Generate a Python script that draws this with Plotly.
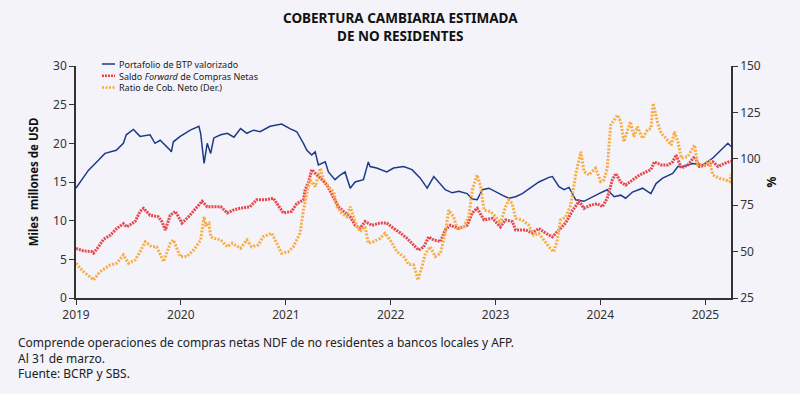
import plotly.graph_objects as go

# ---------------- data ----------------
btp_dates = ["2019-01-01","2019-01-27","2019-02-13","2019-03-20","2019-04-12","2019-05-21","2019-06-15","2019-06-25",
             "2019-07-20","2019-08-12","2019-09-16","2019-10-03","2019-10-21","2019-11-25","2019-11-29","2019-12-06",
             "2019-12-30","2020-02-03","2020-03-04","2020-03-10","2020-03-22","2020-04-02","2020-04-14","2020-04-25",
             "2020-05-19","2020-06-11","2020-07-04","2020-07-27","2020-08-18","2020-09-10","2020-10-03","2020-11-07",
             "2020-12-17","2021-01-15","2021-02-08","2021-03-03","2021-03-15","2021-04-01","2021-04-13","2021-04-24",
             "2021-05-18","2021-05-29","2021-06-21","2021-07-09","2021-07-26","2021-08-13","2021-08-30","2021-09-28",
             "2021-10-15","2021-10-21","2021-11-13","2021-12-18","2022-01-11","2022-02-15","2022-03-16","2022-04-14",
             "2022-05-08","2022-05-31","2022-06-17","2022-07-10","2022-08-03","2022-08-26","2022-09-24","2022-10-12",
             "2022-10-29","2022-11-16","2022-12-09","2023-01-01","2023-01-24","2023-02-16","2023-03-12","2023-04-04",
             "2023-05-09","2023-06-01","2023-07-06","2023-07-18","2023-08-10","2023-08-28","2023-09-14","2023-09-26",
             "2023-10-07","2023-11-05","2023-12-04","2023-12-27","2024-01-25","2024-02-06","2024-02-18","2024-03-12",
             "2024-03-29","2024-04-22","2024-05-27","2024-06-25","2024-07-13","2024-08-05","2024-09-09","2024-09-27",
             "2024-10-14","2024-11-18","2024-12-23","2025-01-27","2025-02-25","2025-03-20","2025-03-31"]
btp_values = [14.2,15.5,16.5,17.8,18.7,19.1,20.0,21.1,
              21.8,20.9,21.1,20.0,20.4,19.1,18.9,20.2,
              20.9,21.7,22.2,21.3,17.4,20.0,18.7,20.7,
              21.1,21.3,20.8,21.9,21.3,21.7,21.5,22.2,
              22.5,21.9,21.5,20.0,19.1,18.5,18.9,17.2,
              17.6,16.3,15.3,15.9,16.3,14.2,15.0,15.3,
              17.6,17.0,16.8,16.3,16.8,17.0,16.6,15.5,
              14.2,15.7,15.0,14.0,13.6,13.8,13.5,12.8,
              12.7,14.0,14.2,13.7,13.3,12.9,13.1,13.5,
              14.4,15.0,15.6,15.7,14.4,14.0,14.3,13.5,
              12.7,12.5,13.1,13.5,14.0,13.5,13.1,13.3,
              12.9,13.7,14.2,13.5,14.8,15.5,16.1,17.0,
              17.0,17.4,17.2,18.1,19.1,20.0,19.6]

fwd_dates = ["2019-01-01","2019-01-27","2019-02-25","2019-03-03","2019-03-20","2019-04-07","2019-04-30","2019-05-23",
             "2019-06-15","2019-06-27","2019-07-26","2019-08-12","2019-08-24","2019-09-16","2019-10-15","2019-10-27",
             "2019-11-08","2019-11-25","2019-12-13","2020-01-05","2020-01-28","2020-02-21","2020-03-15","2020-04-02",
             "2020-04-25","2020-05-19","2020-06-11","2020-07-04","2020-07-25","2020-08-29","2020-09-21","2020-10-20",
             "2020-11-18","2020-12-23","2021-01-21","2021-02-08","2021-03-03","2021-03-09","2021-03-21","2021-04-01",
             "2021-04-19","2021-05-07","2021-05-24","2021-06-16","2021-07-03","2021-07-21","2021-08-13","2021-08-30",
             "2021-09-16","2021-10-04","2021-10-27","2021-11-25","2021-12-18","2022-01-11","2022-02-04","2022-02-27",
             "2022-03-16","2022-04-08","2022-04-26","2022-05-13","2022-05-31","2022-06-23","2022-07-10","2022-07-28",
             "2022-08-26","2022-09-24","2022-10-12","2022-10-29","2022-11-22","2022-12-21","2023-01-18","2023-02-05",
             "2023-02-28","2023-03-12","2023-04-16","2023-05-09","2023-06-01","2023-06-24","2023-07-18","2023-08-10",
             "2023-09-02","2023-09-26","2023-10-19","2023-11-05","2023-11-28","2023-12-21","2024-01-08","2024-01-25",
             "2024-02-12","2024-02-24","2024-03-12","2024-03-29","2024-04-22","2024-05-16","2024-06-08","2024-06-25",
             "2024-07-07","2024-07-31","2024-08-23","2024-09-09","2024-09-21","2024-10-09","2024-11-01","2024-11-24",
             "2024-12-11","2025-01-04","2025-01-27","2025-02-14","2025-03-08","2025-03-31"]
fwd_values = [6.4,6.1,6.0,5.8,6.6,7.6,8.1,9.0,
              9.6,9.2,9.9,11.2,11.6,10.7,10.5,9.9,
              8.8,10.7,11.2,9.7,10.5,11.6,12.5,11.8,
              11.8,11.8,11.0,11.4,11.6,11.8,12.7,12.7,
              12.9,11.0,11.2,12.2,12.7,14.0,15.0,16.6,
              15.9,15.3,14.6,13.1,11.8,11.2,10.5,9.4,
              9.0,9.9,9.4,9.7,9.7,9.0,8.4,7.7,
              7.1,6.2,6.6,7.9,7.5,7.3,8.8,9.4,
              9.0,9.4,11.0,11.6,10.1,10.3,9.2,10.1,
              9.9,8.8,8.8,8.4,9.0,8.4,7.9,8.8,
              9.7,11.3,12.5,11.6,12.0,12.2,11.8,12.9,
              15.3,16.1,15.0,14.6,15.3,15.9,16.3,16.6,
              17.6,17.2,17.2,17.6,18.5,16.8,17.2,18.3,
              17.0,17.2,17.6,17.0,17.4,17.7]

ratio_dates = ["2019-01-01","2019-01-27","2019-02-25","2019-03-03","2019-03-26","2019-04-30","2019-05-23","2019-06-15",
               "2019-07-03","2019-07-26","2019-08-12","2019-08-30","2019-09-22","2019-10-09","2019-11-02","2019-11-25",
               "2019-12-06","2019-12-30","2020-01-22","2020-02-15","2020-03-10","2020-03-22","2020-03-28","2020-04-08",
               "2020-04-14","2020-04-25","2020-05-19","2020-06-11","2020-06-28","2020-07-27","2020-08-18","2020-09-04",
               "2020-09-27","2020-10-14","2020-11-13","2020-11-30","2020-12-17","2021-01-09","2021-01-27","2021-02-19",
               "2021-03-03","2021-03-15","2021-03-26","2021-04-13","2021-05-01","2021-05-12","2021-05-29","2021-06-16",
               "2021-06-28","2021-07-15","2021-08-01","2021-08-13","2021-08-30","2021-09-16","2021-10-04","2021-10-15",
               "2021-11-02","2021-11-25","2021-12-12","2021-12-30","2022-01-23","2022-02-15","2022-03-04","2022-03-22",
               "2022-04-06","2022-04-20","2022-05-02","2022-05-19","2022-06-05","2022-06-23","2022-07-10","2022-07-22",
               "2022-08-08","2022-08-20","2022-09-12","2022-09-30","2022-10-12","2022-10-29","2022-11-10","2022-11-22",
               "2022-12-15","2023-01-01","2023-01-18","2023-02-05","2023-02-16","2023-02-28","2023-03-12","2023-04-04",
               "2023-04-27","2023-05-14","2023-06-01","2023-06-18","2023-07-06","2023-07-23","2023-08-04","2023-08-15",
               "2023-09-02","2023-09-20","2023-10-07","2023-10-25","2023-11-05","2023-11-22","2023-12-15","2024-01-02",
               "2024-01-13","2024-01-25","2024-02-06","2024-03-01","2024-03-12","2024-03-23","2024-04-04","2024-04-15",
               "2024-04-27","2024-05-09","2024-05-27","2024-06-13","2024-06-25","2024-07-03","2024-07-19","2024-07-31",
               "2024-08-17","2024-09-04","2024-09-15","2024-09-27","2024-10-09","2024-11-01","2024-11-24","2024-12-05",
               "2024-12-29","2025-01-15","2025-01-27","2025-02-19","2025-03-13","2025-03-27","2025-03-31"]
ratio_values = [43.7,39.2,35.6,34.7,39.2,42.8,43.7,48.2,
                43.7,45.5,49.9,55.3,52.6,52.6,44.6,54.5,
                56.3,47.3,47.3,50.9,56.3,68.8,64.3,65.2,
                58.0,57.2,56.3,52.6,54.5,51.8,56.3,52.6,
                53.6,58.0,59.9,54.5,49.1,49.9,52.6,59.9,
                72.4,81.4,88.6,85.0,94.9,88.6,85.0,82.3,
                74.2,70.6,68.8,74.2,66.1,60.7,63.4,54.5,
                55.3,57.2,59.9,56.3,49.9,47.3,43.2,42.8,
                34.7,41.9,49.1,52.6,47.3,49.1,59.9,72.4,
                68.8,62.6,63.5,68.8,83.2,91.3,85.0,72.4,
                71.5,68.8,65.2,74.2,77.8,76.0,67.9,67.0,
                64.3,58.9,59.9,56.3,52.6,49.9,56.3,67.0,
                68.5,75.1,91.3,103.8,93.1,91.3,94.9,87.7,
                88.6,94.9,118.2,123.6,120.0,109.2,114.6,120.0,
                111.9,117.3,111.0,115.5,116.4,129.9,119.1,113.7,
                111.0,107.4,114.6,109.2,100.3,101.2,107.4,96.7,
                96.7,98.5,91.3,89.5,88.6,87.7,91.5]

series_names = ["Portafolio de BTP valorizado",
                "Saldo <i>Forward</i> de Compras Netas",
                "Ratio de Cob. Neto (Der.)"]
year_ticks = ["2019-01-01","2020-01-01","2021-01-01","2022-01-01","2023-01-01","2024-01-01","2025-01-01"]
year_labels = ["2019","2020","2021","2022","2023","2024","2025"]
left_ticks = [0, 5, 10, 15, 20, 25, 30]
right_ticks = [25, 50, 75, 100, 125, 150]

title_text = "<b>COBERTURA CAMBIARIA ESTIMADA<br>DE NO RESIDENTES</b>"
notes = ["Comprende operaciones de compras netas NDF de no residentes a bancos locales y AFP.",
         "Al 31 de marzo.",
         "Fuente: BCRP y SBS."]

# ---------------- styles ----------------
W, H = 800, 394
ML, MR, MT, MB = 76, 69, 66, 96
PW, PH = W - ML - MR, H - MT - MB
BG = "#F3F3F9"
AX = "#333333"
FONT = "Noto Sans"
C_BLUE = "#1D3A8A"
C_RED = "#E8464B"
C_ORANGE = "#F9AC42"
line_styles = [dict(color=C_BLUE, width=1.5),
               dict(color=C_RED, width=3, dash="2px,1px"),
               dict(color=C_ORANGE, width=3, dash="2px,1.5px")]
LEG_FONT = 9
LEG_TOP = 64                      # centre of first legend row (px)
LEG_STEP = LEG_FONT * 1.3         # row spacing of a multi-line annotation


def px_x(px):
    return (px - ML) / PW


def px_y(py):
    return (H - MB - py) / PH


fig = go.Figure()
fig.add_trace(go.Scatter(x=btp_dates, y=btp_values, name=series_names[0], mode="lines",
                         line=line_styles[0], yaxis="y"))
fig.add_trace(go.Scatter(x=fwd_dates, y=fwd_values, name=series_names[1], mode="lines",
                         line=line_styles[1], yaxis="y"))
fig.add_trace(go.Scatter(x=ratio_dates, y=ratio_values, name=series_names[2], mode="lines",
                         line=line_styles[2], yaxis="y2"))

fig.update_layout(
    width=W, height=H,
    paper_bgcolor=BG, plot_bgcolor=BG,
    margin=dict(l=ML, r=MR, t=MT, b=MB),
    font=dict(family=FONT, size=12, color=AX),
    showlegend=False,
    xaxis=dict(type="date", range=["2019-01-01", "2025-03-31"],
               tickvals=year_ticks, ticktext=year_labels,
               showgrid=False, zeroline=False, showline=True, linecolor=AX, linewidth=1.5,
               ticks="outside", ticklen=5, tickcolor=AX, tickfont=dict(size=12, color=AX)),
    yaxis=dict(range=[0, 30], tickvals=left_ticks, showgrid=False, zeroline=False,
               showline=True, linecolor=AX, linewidth=1.5, ticks="outside", ticklen=5, tickcolor=AX,
               tickfont=dict(size=12, color=AX),
               title=dict(text="<b>Miles\u00a0 millones de USD</b>", font=dict(size=11.5, color="#111111"),
                          standoff=12)),
    yaxis2=dict(range=[25, 150], tickvals=right_ticks, overlaying="y", side="right", anchor="x",
                showgrid=False, zeroline=False, showline=True, linecolor=AX, linewidth=1.5,
                ticks="outside", ticklen=5, tickcolor=AX, tickfont=dict(size=12, color=AX),
                title=dict(text="<b>%</b>", font=dict(size=12, color="#111111"), standoff=8)),
)

# title
fig.add_annotation(text=title_text, xref="paper", yref="paper", x=px_x(400), y=px_y(27),
                   xanchor="center", yanchor="middle", showarrow=False, align="center",
                   font=dict(family=FONT, size=13.5, color="#111111"))

# legend (drawn manually to match the compact reference legend)
for i, style in enumerate(line_styles):
    ry = LEG_TOP + i * LEG_STEP
    sample = dict(style)
    sample["width"] = min(style["width"], 2.5)
    fig.add_shape(type="line", xref="paper", yref="paper",
                  x0=px_x(102), x1=px_x(115), y0=px_y(ry), y1=px_y(ry), line=sample)
fig.add_annotation(text="<br>".join(series_names), xref="paper", yref="paper",
                   x=px_x(118), y=px_y(LEG_TOP + LEG_STEP), xanchor="left", yanchor="middle",
                   showarrow=False, align="left", borderpad=0,
                   font=dict(family=FONT, size=LEG_FONT, color="#222222"))

# footnotes (one multi-line block)
fig.add_annotation(text="<br>".join(notes), xref="paper", yref="paper", x=px_x(17), y=px_y(357.5),
                   xanchor="left", yanchor="middle", showarrow=False, align="left", borderpad=0,
                   font=dict(family=FONT, size=12, color="#222222"))

fig.write_html("out.html", config={"displayModeBar": False},
               post_script="document.body.style.margin='0';")
